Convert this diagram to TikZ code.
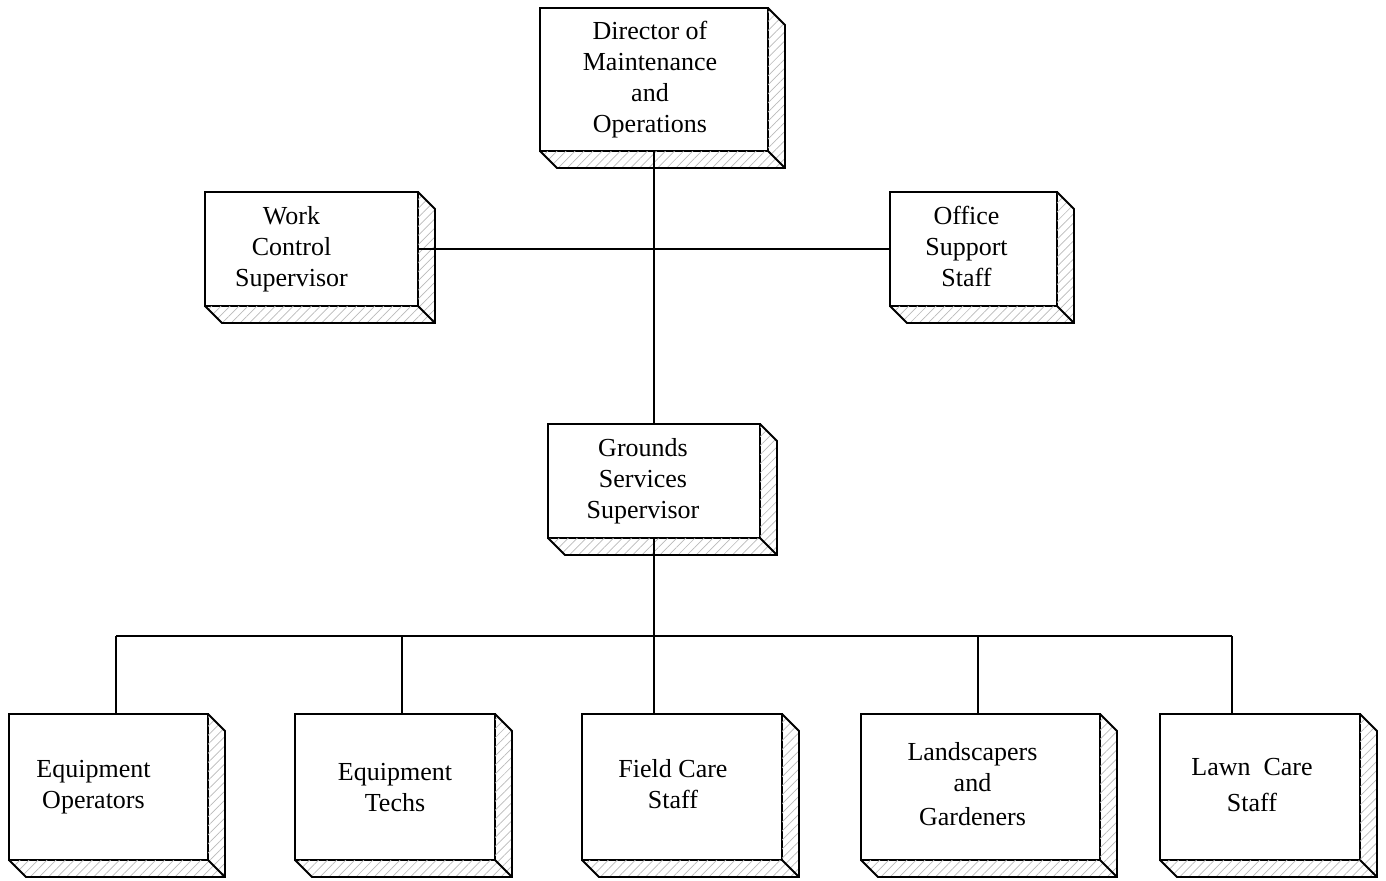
\documentclass[tikz,border=0pt]{standalone}
\usepackage{fontspec}
\setmainfont{Liberation Serif}
\usetikzlibrary{patterns.meta}

% text set off the box centre by half of #1
\newcommand\offtext[2]{\hspace*{#1}\begin{tabular}{@{}c@{}}#2\end{tabular}}

\tikzset{
  unit/.style={draw, line width=0.9pt, fill=white, align=center, inner sep=0pt, outer sep=0pt,
    font=\fontsize{13}{15.5}\selectfont},
  link/.style={line width=0.9pt},
  hatch/.style={pattern={Lines[angle=45,distance=3.2pt,line width=0.35pt]}, pattern color=gray!55},
}

\begin{document}
\begin{tikzpicture}[x=0.5pt,y=-0.5pt]
  \useasboundingbox (0,0) rectangle (1386,880);
  % top level
  \node[unit, minimum width=114pt, minimum height=71.5pt] (dir) at (654,79.5) {\offtext{-4pt}{Director of\\Maintenance\\and\\Operations}};
  \node[unit, minimum width=106.5pt, minimum height=57pt] (wcs) at (311.5,249) {\offtext{-20pt}{Work\\Control\\Supervisor}};
  \node[unit, minimum width=83.5pt, minimum height=57pt] (oss) at (973.5,249) {\offtext{-7pt}{Office\\Support\\Staff}};
  \node[unit, minimum width=106pt, minimum height=57pt] (gss) at (654,481) {\offtext{-11pt}{Grounds\\Services\\Supervisor}};
  % crews
  \node[unit, minimum width=99.5pt, minimum height=73pt] (eqop) at (108.5,787) {\offtext{-15pt}{Equipment\\Operators}};
  \node[unit, minimum width=100pt, minimum height=73pt] (eqtc) at (395,787) {Equipment\\Techs};
  \node[unit, minimum width=100pt, minimum height=73pt] (fcs) at (682,787) {\offtext{-9pt}{Field Care\\Staff}};
  \node[unit, minimum width=119.5pt, minimum height=73pt] (lsg) at (980.5,787) {\offtext{-8pt}{Landscapers\\and\\[1.5pt]Gardeners}};
  \node[unit, minimum width=100pt, minimum height=73pt] (lcs) at (1260,787) {\offtext{-8pt}{Lawn\ \ Care\\[2.5pt]Staff}};

  % 3d sides
  \foreach \n in {dir,wcs,oss,gss,eqop,eqtc,fcs,lsg,lcs} {
    \fill[hatch]
      (\n.north east) -- ++(17,17) -- ([shift={(17,17)}]\n.south east)
      -- ([shift={(17,17)}]\n.south west) -- (\n.south west) -- (\n.south east) -- cycle;
    \draw[link] (\n.north east) -- ++(17,17) -- ([shift={(17,17)}]\n.south east)
      -- ([shift={(17,17)}]\n.south west) -- (\n.south west)
      (\n.south east) -- ++(17,17);
  }

  % connectors
  \draw[link] (dir) -- (gss);
  \draw[link] (wcs.east) -- (oss.west);
  \coordinate (t1) at (116,636);
  \coordinate (t2) at (402,636);
  \coordinate (t3) at (654,636);
  \coordinate (t4) at (978,636);
  \coordinate (t5) at (1232,636);
  \draw[link] (gss.south) -- (t3);
  \draw[link] (t1) -- (t5);
  \foreach \t/\n in {t1/eqop,t2/eqtc,t3/fcs,t4/lsg,t5/lcs}
    \draw[link] (\t) -- (\t |- \n.north);
\end{tikzpicture}
\end{document}
